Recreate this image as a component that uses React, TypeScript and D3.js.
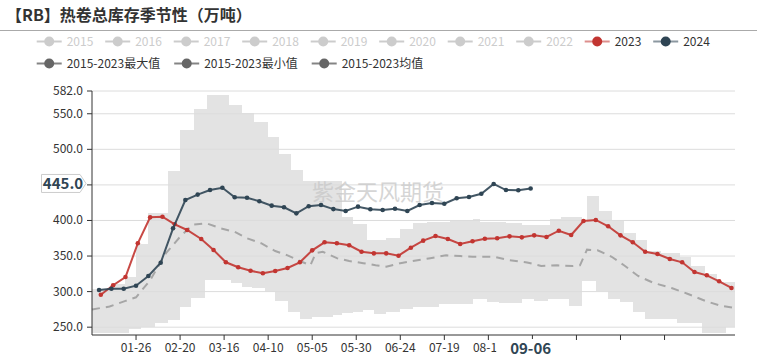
import React from 'react';
import * as d3 from 'd3';

const title = '【RB】热卷总库存季节性（万吨）';
const legendYears = ['2015', '2016', '2017', '2018', '2019', '2020', '2021', '2022', '2023', '2024'];
const legendStats = ['2015-2023最大值', '2015-2023最小值', '2015-2023均值'];
const yTicks = [250, 300, 350, 400, 450, 500, 550, 582];
const yHiddenLabels = [450];
const xTickLabels = ['01-26', '02-20', '03-16', '04-10', '05-05', '05-30', '06-24', '07-19', '08-13', '09-07', '10-02', '10-27', '11-21'];
const xHiddenLabels = ['09-07'];
const watermark = '紫金天风期货';
const pointerValue = 445.0;
const pointerDate = '09-06';

const start2023 = '2023-01-06';
const values2023 = [
  295.6, 308.9, 320.5, 367.9, 404.4, 405.3, 394.6, 386.6, 374, 358.5,
  341.2, 334.2, 329.4, 325.7, 329, 333.2, 341.2, 358, 369.3, 367.9,
  365.1, 356.1, 353.8, 353.8, 350.5, 361.7, 371.6, 378.2, 374, 366.9,
  370.7, 374.4, 375, 377.7, 376.3, 379.1, 376.8, 385.6, 379.6, 399.2,
  400.7, 391.8, 379.1, 369.3, 356.1, 352.9, 345.8, 341.2, 327.6, 322.9,
  314.5, 305.1,
];
const start2024 = '2024-01-05';
const values2024 = [
  302.3, 304.1, 304, 308.3, 322, 340.6, 389, 428.8, 436.4, 442.8,
  446, 432.6, 432, 427, 420.8, 418.5, 410, 420, 421.7, 416,
  413.3, 419.4, 415.7, 414.8, 416.5, 413.3, 421.7, 424.6, 423.6, 431.2,
  433, 437.6, 451.3, 442.8, 442.4, 445,
];

const maxDates = ['01-01', '01-13', '01-20', '01-26', '02-02', '02-13', '02-20', '02-28', '03-06', '03-19', '03-26', '04-02', '04-10', '04-16', '04-23', '04-30', '05-22', '05-28', '06-05', '06-16', '06-24', '07-01', '07-09', '07-22', '08-04', '08-08', '08-23', '09-01', '09-17', '09-23', '10-05', '10-08', '10-15', '10-22', '10-29', '11-05', '11-11', '11-19', '11-30', '12-06', '12-14', '12-21', '12-31'];
const maxValues = [303, 310, 320, 367, 410, 469, 527, 556, 577, 562, 551, 538, 517, 494, 471, 456, 405, 395, 372, 375, 388, 397, 398, 401, 402, 398, 396, 393, 402, 405, 398, 435, 414, 400, 383, 372, 357, 354, 349, 336, 325, 314, 314];

const minDates = ['01-01', '01-22', '01-29', '02-06', '02-13', '02-20', '02-26', '03-05', '03-20', '03-26', '04-01', '04-08', '04-14', '04-21', '04-28', '05-05', '05-17', '05-22', '05-28', '06-03', '06-09', '06-16', '06-24', '07-01', '07-16', '08-04', '08-12', '08-19', '09-01', '09-08', '09-16', '09-28', '10-05', '10-13', '10-20', '10-27', '11-03', '11-10', '11-19', '11-28', '12-12', '12-26', '12-31'];
const minValues = [242, 248, 250, 256, 260, 279, 291, 316, 312, 307, 305, 300, 287, 272, 262, 265, 267, 270, 272, 274, 268, 272, 276, 279, 283, 289, 286, 284, 289, 287, 289, 280, 315, 301, 290, 286, 272, 262, 261, 256, 242, 250, 250];

const avgDates = ['01-01', '01-11', '01-20', '01-26', '02-03', '02-12', '02-20', '02-27', '03-06', '03-14', '03-22', '03-29', '04-06', '04-14', '04-21', '04-28', '05-04', '05-07', '05-11', '05-19', '05-26', '06-03', '06-10', '06-16', '06-24', '07-01', '07-11', '07-20', '07-28', '08-04', '08-16', '08-25', '09-04', '09-12', '09-21', '09-30', '10-04', '10-08', '10-14', '10-22', '10-29', '11-06', '11-15', '11-25', '12-04', '12-14', '12-23', '12-31'];
const avgValues = [275, 279, 287, 292, 316, 354, 377, 394, 396, 389, 384, 375, 368, 357, 351, 343, 337, 354, 356, 347, 343, 340, 337, 335, 340, 343, 347, 351, 350, 349, 349, 344, 341, 336, 337, 336, 337, 359, 358, 349, 337, 322, 312, 305, 297, 287, 280, 277];

const RED = '#c23531';
const DARK = '#2f4554';
const FONT = '"Noto Sans CJK SC", "Noto Sans", sans-serif';

const md = (s: string) => new Date(2024, +s.slice(0, 2) - 1, +s.slice(3, 5));
const weekly = (startIso: string, n: number) => {
  const [yy, mm, dd] = startIso.split('-').map(Number);
  const s = new Date(yy, mm - 1, dd);
  return d3.range(n).map((i) => {
    const d = d3.timeDay.offset(s, 7 * i);
    return new Date(2024, d.getMonth(), d.getDate());
  });
};

export default function App() {
  const W = 757, H = 361;
  const left = 92, right = 735, top = 91, bottom = 335;
  const x = d3.scaleTime().domain([new Date(2024, 0, 1), new Date(2024, 11, 31)]).range([left, right]);
  const y = d3.scaleLinear().domain([239, 582]).range([bottom, top]);

  const maxPts = maxDates.map((d, i) => [x(md(d)), y(maxValues[i])] as [number, number]);
  const minPts = minDates.map((d, i) => [x(md(d)), y(minValues[i])] as [number, number]);
  const avgPts = avgDates.map((d, i) => [x(md(d)), y(avgValues[i])] as [number, number]);
  const d23 = weekly(start2023, values2023.length);
  const d24 = weekly(start2024, values2024.length);
  const p23 = values2023.map((v, i) => [x(d23[i]), y(v)] as [number, number]);
  const p24 = values2024.map((v, i) => [x(d24[i]), y(v)] as [number, number]);

  const stepArea = d3.area<[number, number]>().curve(d3.curveStepAfter).x((p) => p[0]).y0(bottom).y1((p) => p[1]);
  const line = d3.line<[number, number]>().x((p) => p[0]).y((p) => p[1]);

  const pointerX = x(md(pointerDate));
  const pointerY = y(pointerValue) - 5;
  const boxL = pointerX - 34;

  return (
    <svg width={W} height={H} style={{ position: 'absolute', left: 0, top: 0, background: '#fff' }} fontFamily={FONT}>
      <defs>
        <clipPath id="xlabclip">
          <rect x={0} y={0} width={boxL} height={H} />
        </clipPath>
      </defs>
      <text x={6} y={21} fontSize={16} fontWeight="bold" fill="#333">{title}</text>
      <line x1={0} x2={W} y1={30.5} y2={30.5} stroke="#aaa" strokeWidth={1} />

      {legendYears.map((name, i) => {
        const lx = 36.7 + i * 68.5;
        const ly = 41.5;
        const active = name === '2023' || name === '2024';
        const c = name === '2023' ? RED : name === '2024' ? DARK : '#ccc';
        return (
          <g key={name}>
            <line x1={lx} x2={lx + 25} y1={ly} y2={ly} stroke={c} strokeWidth={2} opacity={active ? 0.55 : 1} />
            <circle cx={lx + 12.5} cy={ly} r={5} fill={c} />
            <text x={lx + 30} y={ly + 4.5} fontSize={12} fill={active ? '#333' : '#ccc'}>{name}</text>
          </g>
        );
      })}
      {legendStats.map((name, i) => {
        const lx = 36.7 + i * 137.5;
        const ly = 63.5;
        return (
          <g key={name}>
            <line x1={lx} x2={lx + 25} y1={ly} y2={ly} stroke="#666" strokeWidth={2} opacity={0.8} />
            <circle cx={lx + 12.5} cy={ly} r={5} fill="#666" />
            <text x={lx + 30} y={ly + 4.5} fontSize={12} fill="#333">{name}</text>
          </g>
        );
      })}

      <path d={stepArea(maxPts) || ''} fill="#e3e3e3" shapeRendering="crispEdges" />
      <path d={stepArea(minPts) || ''} fill="#fff" shapeRendering="crispEdges" />

      {yTicks.map((t) => (
        <line key={t} x1={left} x2={right} y1={y(t)} y2={y(t)} stroke="#dcdcdc" strokeWidth={1} />
      ))}

      <text x={378} y={200} fontSize={22} fill="#c8c8c8" opacity={0.75} textAnchor="middle">{watermark}</text>

      <path d={line(avgPts) || ''} fill="none" stroke="#a6a6a6" strokeWidth={2} strokeDasharray="8,6" />

      <path d={line(p23) || ''} fill="none" stroke={RED} strokeWidth={2} opacity={0.9} />
      {p23.map((p, i) => <circle key={i} cx={p[0]} cy={p[1]} r={2.3} fill={RED} />)}
      <path d={line(p24) || ''} fill="none" stroke={DARK} strokeWidth={2} opacity={0.9} />
      {p24.map((p, i) => <circle key={i} cx={p[0]} cy={p[1]} r={2.3} fill={DARK} />)}

      <line x1={left} x2={left} y1={top} y2={bottom} stroke="#333" strokeWidth={1} />
      {yTicks.map((t) => (
        <g key={t}>
          <line x1={left - 5} x2={left} y1={y(t)} y2={y(t)} stroke="#333" />
          {!yHiddenLabels.includes(t) && (
            <text x={left - 9} y={y(t) + 4} fontSize={12} fill="#333" textAnchor="end">{t.toFixed(1)}</text>
          )}
        </g>
      ))}
      <line x1={left} x2={right} y1={bottom} y2={bottom} stroke="#333" strokeWidth={1} />
      {xTickLabels.map((t) => {
        const tx = x(md(t));
        return (
          <g key={t}>
            <line x1={tx} x2={tx} y1={bottom} y2={bottom + 5} stroke="#333" />
            {!xHiddenLabels.includes(t) && (
              <text x={tx} y={bottom + 17} fontSize={12} fill="#333" textAnchor="middle" clipPath="url(#xlabclip)">{t}</text>
            )}
          </g>
        );
      })}

      <g>
        <path
          d={`M41.5,${pointerY - 9} H80 L86,${pointerY} L80,${pointerY + 9} H41.5 Z`}
          fill="#fff"
          stroke="#ccc"
          strokeWidth={1}
        />
        <text x={63} y={pointerY + 5.5} fontSize={15} fontWeight="bold" fill={DARK} textAnchor="middle">{pointerValue.toFixed(1)}</text>
      </g>
      <g>
        <rect x={boxL} y={bottom + 4} width={68} height={22} fill="#fff" />
        <text x={pointerX} y={bottom + 19} fontSize={15} fontWeight="bold" fill={DARK} textAnchor="middle">{pointerDate}</text>
      </g>
    </svg>
  );
}
